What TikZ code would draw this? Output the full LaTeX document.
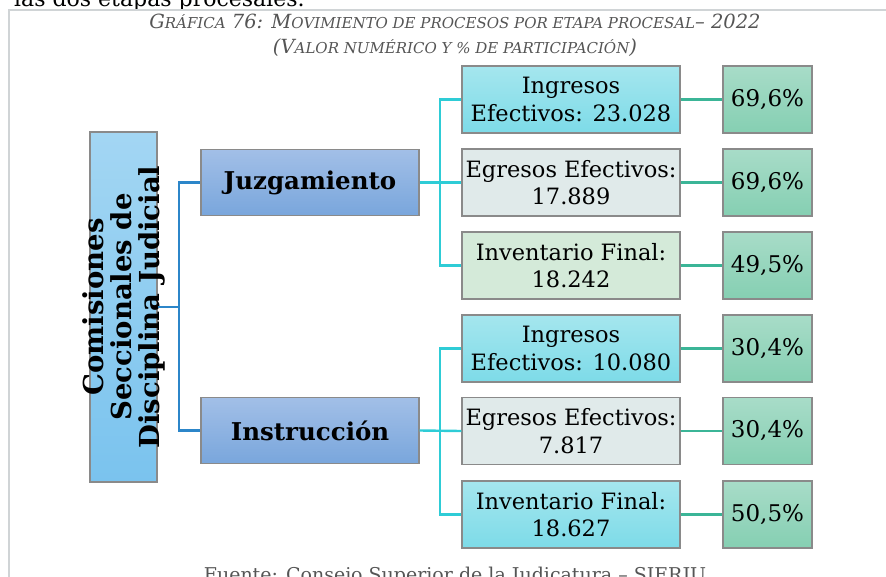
\documentclass[tikz,border=0pt]{standalone}
\usepackage{fontspec}
\setmainfont{DejaVu Serif}
\usetikzlibrary{calc}
\definecolor{frameg}{HTML}{D0D4D6}
\definecolor{bordg}{HTML}{8A8A8A}
\definecolor{titleg}{HTML}{555555}
\definecolor{lbtop}{HTML}{A3D6F3}
\definecolor{lbbot}{HTML}{7AC3EE}
\definecolor{jtop}{HTML}{A2BFE7}
\definecolor{jbot}{HTML}{79A6DC}
\definecolor{ctop}{HTML}{A5E6EE}
\definecolor{cbot}{HTML}{7DDBE8}
\definecolor{egr}{HTML}{E0EAEA}
\definecolor{invg}{HTML}{D4EAD9}
\definecolor{ptop}{HTML}{A8DCC8}
\definecolor{pbot}{HTML}{85CFB2}
\definecolor{blueln}{HTML}{2C86C9}
\definecolor{cyanln}{HTML}{2ECCD6}
\definecolor{tealln}{HTML}{3BB597}
\newcommand\tsc[1]{{\fontsize{15}{16}\selectfont #1}}
\tikzset{
  box/.style={draw=bordg, line width=1.1pt, inner sep=0pt, align=center},
  leftbox/.style={box, top color=lbtop, bottom color=lbbot, minimum width=67pt, minimum height=350pt},
  stagebox/.style={box, top color=jtop, bottom color=jbot, minimum width=218pt, minimum height=66pt, font=\fontsize{24.5}{28}\selectfont\bfseries},
  ingbox/.style={box, top color=ctop, bottom color=cbot, minimum width=218pt, minimum height=67pt, font=\fontsize{22.5}{27.5}\selectfont},
  egrbox/.style={box, fill=egr, minimum width=218pt, minimum height=67pt, font=\fontsize{22.5}{27.5}\selectfont},
  invbox/.style={box, fill=invg, minimum width=218pt, minimum height=67pt, font=\fontsize{22.5}{27.5}\selectfont},
  pctbox/.style={box, top color=ptop, bottom color=pbot, minimum width=89pt, minimum height=67pt, font=\fontsize{23}{27}\selectfont},
  bline/.style={draw=blueln, line width=2.4pt},
  cline/.style={draw=cyanln, line width=2.4pt},
  tline/.style={draw=tealln, line width=2.4pt},
}
\begin{document}
\begin{tikzpicture}[x=1pt,y=-1pt]
\useasboundingbox (0,0) rectangle (886,576);
% top cut text and frame
\node[anchor=base west, inner sep=0pt, font=\fontsize{22}{26}\selectfont] (toptext) at (14,6) {las dos etapas procesales.};
\draw[frameg, line width=1.2pt] (9,600) -- (9,10) -- (900,10);
% title
\node[anchor=base, inner sep=0pt, text=titleg, font=\fontsize{19.5}{22}\selectfont\itshape] (t1) at (455,28)
  {G\tsc{RÁFICA} 76: M\tsc{OVIMIENTO DE PROCESOS POR ETAPA PROCESAL}– 2022};
\node[anchor=base, inner sep=0pt, text=titleg, font=\fontsize{19.5}{22}\selectfont\itshape] (t2) at (455,53)
  {(V\tsc{ALOR NUMÉRICO Y \% DE PARTICIPACIÓN})};
% nodes
\node[leftbox] (L) at (123.5,307) {};
\node[rotate=90, align=center, inner sep=0pt, font=\fontsize{27.5}{28}\selectfont\bfseries] (Ltext) at (124,307)
  {Comisiones\\Seccionales de\\Disciplina Judicial};
\node[stagebox] (J) at (310,182.5) {Juzgamiento};
\node[stagebox] (I) at (310,430.5) {Instrucción};
\node[ingbox] (A1) at (571,99.5) {Ingresos\\Efectivos: 23.028};
\node[egrbox] (A2) at (571,182.5) {Egresos Efectivos:\\17.889};
\node[invbox] (A3) at (571,265.5) {Inventario Final:\\18.242};
\node[ingbox] (B1) at (571,348.5) {Ingresos\\Efectivos: 10.080};
\node[egrbox] (B2) at (571,431) {Egresos Efectivos:\\7.817};
\node[ingbox] (B3) at (571,514.5) {Inventario Final:\\18.627};
\node[pctbox] (P1) at (767.5,99.5) {69,6\%};
\node[pctbox] (P2) at (767.5,182.5) {69,6\%};
\node[pctbox] (P3) at (767.5,265.5) {49,5\%};
\node[pctbox] (Q1) at (767.5,348.5) {30,4\%};
\node[pctbox] (Q2) at (767.5,431) {30,4\%};
\node[pctbox] (Q3) at (767.5,514.5) {50,5\%};
% connectors
\coordinate (b1) at (179,307);
\draw[bline] (L.east |- b1) -- (b1);
\draw[bline] (b1) |- (J.west);
\draw[bline] (b1) |- (I.west);
\coordinate (b2) at (440,182.5);
\coordinate (b3) at (440,430.5);
\draw[cline] (J.east) -- (A2.west);
\draw[cline] (b2) |- (A1.west);
\draw[cline] (b2) |- (A3.west);
\draw[cline] (I.east) -- (B2.west);
\draw[cline] (b3) |- (B1.west);
\draw[cline] (b3) |- (B3.west);
\foreach \a/\b in {A1/P1,A2/P2,A3/P3,B1/Q1,B2/Q2,B3/Q3}
  \draw[tline] (\a.east) -- (\b.west);
% footer
\node[anchor=base, inner sep=0pt, text=titleg, font=\fontsize{19}{22}\selectfont] (foot) at (455,581)
  {Fuente: Consejo Superior de la Judicatura – SIERJU};
\end{tikzpicture}
\end{document}
